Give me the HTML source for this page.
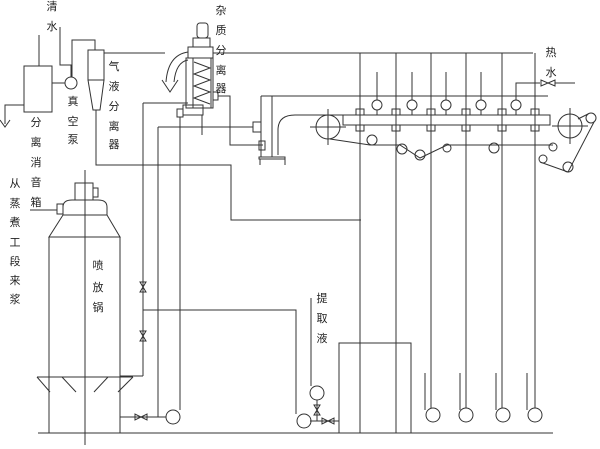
<!DOCTYPE html>
<html><head><meta charset="utf-8"><style>
html,body{margin:0;padding:0;background:#fff;}
svg{display:block}
text{font-family:"Liberation Sans","Noto Sans CJK SC",sans-serif;font-size:11px;fill:#222;text-anchor:middle}
</style></head><body>
<svg width="600" height="449" viewBox="0 0 600 449" xmlns="http://www.w3.org/2000/svg">
<g fill="none" stroke="#333" stroke-width="1">
<line x1="39" y1="35" x2="39" y2="66"/>
<rect x="24" y="66" width="28" height="46"/>
<polyline points="24,105 5,105 5,124"/>
<polyline points="0,120 5,127 10,120"/>
<line x1="52" y1="83" x2="65" y2="83"/>
<circle cx="71" cy="83" r="6"/>
<polyline points="60,27 60,65 71,65 71,77"/>
<polyline points="72,77 72,40 95,40 95,50"/>
<rect x="88" y="50" width="16" height="30"/>
<polyline points="88,80 93,110 100,110 104,80"/>
<polyline points="96,110 96,165 231,165 231,220 361,220"/>
<line x1="104" y1="53" x2="165" y2="53"/>
<line x1="213" y1="53" x2="533" y2="53"/>
<rect x="197" y="23" width="11" height="15" rx="3"/>
<rect x="193" y="38" width="17" height="9"/>
<rect x="188" y="47" width="25" height="11"/>
<rect x="186" y="58" width="27" height="50"/>
<rect x="193" y="58" width="18" height="50"/>
<polyline points="194,62 210,68 194,74 210,80 194,86 210,92 194,98 210,104"/>
<rect x="183" y="105" width="20" height="10"/>
<line x1="202" y1="115" x2="202" y2="135"/>
<path d="M188,52 Q168,55 166,82"/>
<path d="M188,60 Q176,62 174,82"/>
<polyline points="162,80 170,92 178,80"/>
<rect x="213" y="92" width="5" height="8"/>
<polyline points="218,96 230,96 230,145 263,145"/>
<polyline points="143,103 188,103"/>
<line x1="143" y1="103" x2="143" y2="376"/>
<rect x="177" y="109" width="6" height="8"/>
<line x1="180" y1="117" x2="180" y2="410"/>
<polyline points="158,127 253,127"/>
<line x1="158" y1="127" x2="158" y2="417"/>
<rect x="253" y="122" width="8" height="10"/>
<rect x="259" y="141" width="6" height="9"/>
<polyline points="261,96 261,157"/>
<polyline points="272,96 272,157 262,157"/>
<rect x="259" y="157" width="26" height="2"/>
<line x1="260" y1="159" x2="260" y2="165"/>
<line x1="285" y1="159" x2="285" y2="165"/>
<path d="M278,155 L278,130 Q278,115 295,115 L343,115"/>
<line x1="261" y1="96" x2="548" y2="96"/>
<rect x="343" y="115" width="207" height="10"/>
<circle cx="328" cy="127" r="12"/>
<line x1="310" y1="127" x2="346" y2="127"/><line x1="328" y1="109" x2="328" y2="145"/>
<circle cx="570" cy="126" r="12"/>
<line x1="552" y1="126" x2="588" y2="126"/><line x1="570" y1="108" x2="570" y2="144"/>
<line x1="360" y1="53" x2="360" y2="433"/>
<line x1="396" y1="53" x2="396" y2="433"/>
<line x1="431" y1="53" x2="431" y2="408"/>
<line x1="466" y1="53" x2="466" y2="408"/>
<line x1="502" y1="53" x2="502" y2="408"/>
<line x1="535" y1="53" x2="535" y2="408"/>
<g>
<rect x="356" y="109" width="8" height="6"/><rect x="356" y="125" width="8" height="6"/>
<rect x="392" y="109" width="8" height="6"/><rect x="392" y="125" width="8" height="6"/>
<rect x="427" y="109" width="8" height="6"/><rect x="427" y="125" width="8" height="6"/>
<rect x="462" y="109" width="8" height="6"/><rect x="462" y="125" width="8" height="6"/>
<rect x="498" y="109" width="8" height="6"/><rect x="498" y="125" width="8" height="6"/>
<rect x="531" y="109" width="8" height="6"/><rect x="531" y="125" width="8" height="6"/>
</g>
<line x1="377" y1="72" x2="377" y2="100"/><circle cx="377" cy="105" r="5"/><line x1="377" y1="110" x2="377" y2="115"/>
<line x1="412" y1="72" x2="412" y2="100"/><circle cx="412" cy="105" r="5"/><line x1="412" y1="110" x2="412" y2="115"/>
<line x1="446" y1="72" x2="446" y2="100"/><circle cx="446" cy="105" r="5"/><line x1="446" y1="110" x2="446" y2="115"/>
<line x1="481" y1="72" x2="481" y2="100"/><circle cx="481" cy="105" r="5"/><line x1="481" y1="110" x2="481" y2="115"/>
<polyline points="516,100 516,83 540,83"/><circle cx="516" cy="105" r="5"/><line x1="516" y1="110" x2="516" y2="115"/>
<line x1="555" y1="83" x2="575" y2="83"/>
<polygon points="541,80 541,86 548,83"/><polygon points="555,80 555,86 548,83"/>
<polyline points="330,139 370,145 400,145 420,158 447,145 553,145"/>
<circle cx="372" cy="140" r="5"/>
<circle cx="402" cy="149" r="5"/>
<circle cx="420" cy="155" r="5"/>
<circle cx="447" cy="148" r="4"/>
<circle cx="494" cy="148" r="5"/>
<circle cx="553" cy="147" r="4"/>
<circle cx="543" cy="159" r="4"/>
<circle cx="568" cy="167" r="5"/>
<circle cx="591" cy="118" r="5"/>
<polyline points="540,162 568,172 594,122"/>
<line x1="578" y1="119" x2="588" y2="114"/>
<line x1="85" y1="170" x2="85" y2="445"/>
<rect x="75" y="183" width="18" height="17"/>
<rect x="93" y="188" width="5" height="9"/>
<path d="M63,215 L63,207 Q63,200 72,200 L98,200 Q107,200 107,207 L107,215 Z"/>
<rect x="57" y="204" width="6" height="10"/>
<line x1="30" y1="210" x2="57" y2="210"/>
<polyline points="63,215 49,237 120,237 107,215"/>
<rect x="49" y="237" width="71" height="140"/>
<line x1="37" y1="377" x2="133" y2="377"/>
<line x1="37" y1="377" x2="50" y2="392"/>
<line x1="62" y1="377" x2="76" y2="392"/>
<line x1="108" y1="377" x2="94" y2="392"/>
<line x1="133" y1="377" x2="118" y2="392"/>
<line x1="49" y1="377" x2="49" y2="433"/>
<line x1="120" y1="377" x2="120" y2="433"/>
<polyline points="120,376 143,376"/>
<polygon points="140,282 146,282 143,287"/><polygon points="140,292 146,292 143,287"/>
<polygon points="140,331 146,331 143,336"/><polygon points="140,341 146,341 143,336"/>
<line x1="120" y1="417" x2="166" y2="417"/>
<polygon points="135,414 135,420 141,417"/><polygon points="147,414 147,420 141,417"/>
<circle cx="173" cy="417" r="7"/>
<polyline points="143,310 296,310 296,414"/>
<circle cx="304" cy="421" r="7"/>
<line x1="310" y1="421" x2="339" y2="421"/>
<polygon points="322,418 322,424 328,421"/><polygon points="334,418 334,424 328,421"/>
<line x1="317" y1="400" x2="317" y2="421"/>
<polygon points="314,405 320,405 317,410"/><polygon points="314,415 320,415 317,410"/>
<circle cx="317" cy="393" r="7"/>
<line x1="311" y1="298" x2="311" y2="386"/>
<rect x="339" y="343" width="72" height="90"/>
<line x1="425" y1="373" x2="425" y2="410"/><circle cx="433" cy="415" r="7"/>
<line x1="460" y1="373" x2="460" y2="410"/><circle cx="466" cy="415" r="7"/>
<line x1="496" y1="373" x2="496" y2="410"/><circle cx="503" cy="415" r="7"/>
<line x1="527" y1="373" x2="527" y2="410"/><circle cx="535" cy="415" r="7"/>
<line x1="38" y1="433" x2="553" y2="433"/>
</g>
<g>
<text x="52" y="10">清</text><text x="52" y="30">水</text>
<text x="36" y="126">分</text><text x="36" y="146">离</text><text x="36" y="166">消</text><text x="36" y="186">音</text><text x="36" y="206">箱</text>
<text x="73" y="105">真</text><text x="73" y="125">空</text><text x="73" y="143">泵</text>
<text x="114" y="70">气</text><text x="114" y="90">液</text><text x="114" y="110">分</text><text x="114" y="130">离</text><text x="114" y="148">器</text>
<text x="221" y="14">杂</text><text x="221" y="34">质</text><text x="221" y="54">分</text><text x="221" y="74">离</text><text x="221" y="92">器</text>
<text x="551" y="56">热</text><text x="551" y="76">水</text>
<text x="15" y="187">从</text><text x="15" y="207">蒸</text><text x="15" y="226">煮</text><text x="15" y="246">工</text><text x="15" y="265">段</text><text x="15" y="284">来</text><text x="15" y="303">浆</text>
<text x="98" y="269">喷</text><text x="98" y="291">放</text><text x="98" y="311">锅</text>
<text x="322" y="302">提</text><text x="322" y="322">取</text><text x="322" y="342">液</text>
</g>
</svg>
</body></html>
